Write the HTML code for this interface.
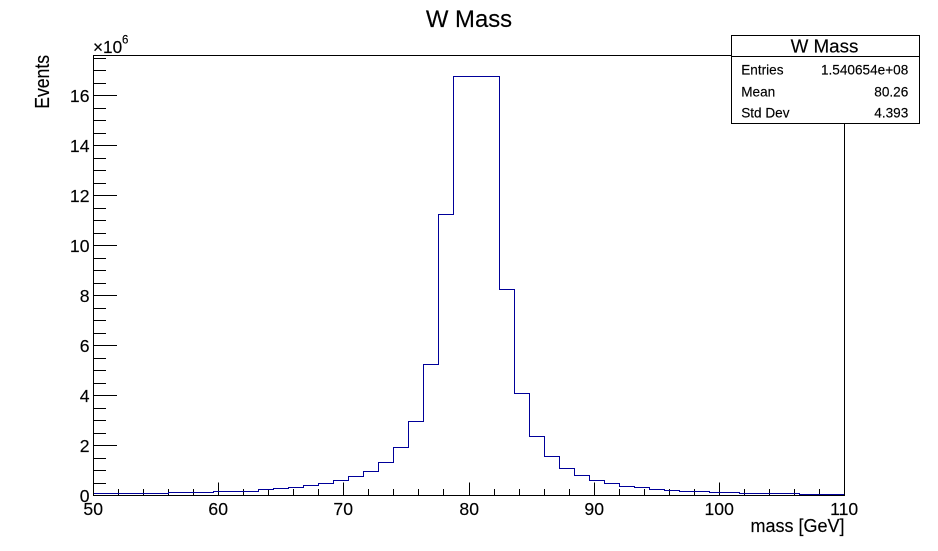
<!DOCTYPE html>
<html lang="en">
<head>
<meta charset="utf-8">
<title>W Mass</title>
<style>
html,body{margin:0;padding:0;background:#fff;}
svg{display:block;}
text{font-family:"Liberation Sans",sans-serif;fill:#000;stroke:#000;stroke-width:0.15px;}
</style>
</head>
<body>
<svg id="chart" xmlns="http://www.w3.org/2000/svg" width="938" height="551" viewBox="0 0 938 551">
  <rect x="0" y="0" width="938" height="551" fill="#fff"/>
  <text x="469" y="27" font-size="23.9" text-anchor="middle">W Mass</text>
  <g id="ticks"></g>
  <path id="hist" fill="none" stroke="#000099" stroke-width="1"/>
  <rect x="93.5" y="55.5" width="751" height="440" fill="none" stroke="#000" stroke-width="1"/>
  <g id="labels"></g>
  <text x="93" y="53" font-size="17.2">×10</text>
  <text x="122" y="43.5" font-size="11.5">6</text>
  <text transform="translate(49,55) rotate(-90) scale(1,1.14)" font-size="17.6" text-anchor="end">Events</text>
  <text x="844.5" y="532" font-size="18" text-anchor="end">mass [GeV]</text>
  <g>
    <rect x="731.5" y="35.5" width="188" height="88" fill="#fff" stroke="#000" stroke-width="1"/>
    <line x1="731.5" y1="56.5" x2="919.5" y2="56.5" stroke="#000" stroke-width="1"/>
    <text x="824.5" y="52.3" font-size="18.8" text-anchor="middle">W Mass</text>
    <text x="741.2" y="74.3" font-size="13.6">Entries</text>
    <text x="908.3" y="74.3" font-size="13.6" text-anchor="end">1.540654e+08</text>
    <text x="741.2" y="96.5" font-size="13.6">Mean</text>
    <text x="908.3" y="96.5" font-size="13.6" text-anchor="end">80.26</text>
    <text x="741.2" y="117.7" font-size="13.6">Std Dev</text>
    <text x="908.3" y="117.7" font-size="13.6" text-anchor="end">4.393</text>
  </g>
</svg>
<script>
// Bin contents in units of 10^6 events; 50 bins spanning 50..110 GeV
const binValues = [
  0.07,0.07,0.07,0.07,0.07,
  0.107,0.107,0.107,
  0.147,0.147,
  0.173,0.227,0.27,0.307,0.387,0.467,0.587,0.747,0.947,1.307,
  1.907,2.947,5.227,11.25,16.75,16.75,16.75,8.25,4.067,2.347,
  1.547,1.067,0.787,0.587,0.48,0.36,0.32,0.24,0.2,0.16,
  0.16,0.12,0.12,0.08,0.08,0.08,0.08,0.027,0.027,0.027
];
const xRange = [50, 110];
const yMax = 17.6;
const xMajorTicks = [50, 60, 70, 80, 90, 100, 110];
const xMinorTicks = [52, 54, 56, 58, 62, 64, 66, 68, 72, 74, 76, 78, 82, 84, 86, 88, 92, 94, 96, 98, 102, 104, 106, 108];
const yMajorTicks = [0, 2, 4, 6, 8, 10, 12, 14, 16];
const yMinorTicks = [0.5, 1, 1.5, 2.5, 3, 3.5, 4.5, 5, 5.5, 6.5, 7, 7.5, 8.5, 9, 9.5, 10.5, 11, 11.5, 12.5, 13, 13.5, 14.5, 15, 15.5, 16.5, 17, 17.5];

const NS = 'http://www.w3.org/2000/svg';
const left = 93.5, right = 844.5, bottom = 495.5, top_ = 55.5;
function snap(v) { return Math.floor(v) + 0.5; }
function xScale(v) { return left + (v - xRange[0]) * (right - left) / (xRange[1] - xRange[0]); }
function yScale(v) { return bottom - v * (bottom - top_) / yMax; }

const binWidth = (xRange[1] - xRange[0]) / binValues.length;
let d = '';
binValues.forEach(function (v, i) {
  const x0 = i === 0 ? left : snap(xScale(xRange[0] + i * binWidth));
  const x1 = i === binValues.length - 1 ? right : snap(xScale(xRange[0] + (i + 1) * binWidth));
  const y = snap(yScale(v));
  d += (i === 0 ? 'M' + x0 + ' ' + bottom + 'L' + x0 + ' ' + y : 'L' + x0 + ' ' + y) + 'L' + x1 + ' ' + y;
});
d += 'L' + right + ' ' + bottom;
document.getElementById('hist').setAttribute('d', d);

const tickGroup = document.getElementById('ticks');
const labelGroup = document.getElementById('labels');
function addLine(x1, y1, x2, y2) {
  const l = document.createElementNS(NS, 'line');
  l.setAttribute('x1', x1);
  l.setAttribute('y1', y1);
  l.setAttribute('x2', x2);
  l.setAttribute('y2', y2);
  l.setAttribute('stroke', '#000');
  l.setAttribute('stroke-width', '1');
  tickGroup.appendChild(l);
  return l;
}
function addLabel(x, y, txt, anchor) {
  const t = document.createElementNS(NS, 'text');
  t.setAttribute('x', x);
  t.setAttribute('y', y);
  t.setAttribute('font-size', '17.6');
  t.setAttribute('text-anchor', anchor);
  t.textContent = txt;
  labelGroup.appendChild(t);
  return t;
}
xMajorTicks.forEach(function (v) {
  const x = snap(xScale(v));
  const l = addLine(x, bottom, x, bottom - 13);
  
  
  const t = addLabel(x - 0.3, 515, String(v), 'middle');
  
  
});
xMinorTicks.forEach(function (v) {
  const x = snap(xScale(v));
  const l = addLine(x, bottom, x, bottom - 6.5);
  
  
});
yMajorTicks.forEach(function (v) {
  const y = snap(yScale(v));
  const l = addLine(left, y, left + 23.5, y);
  
  
  const t = addLabel(89.5, y + 6.5, String(v), 'end');
  
  
});
yMinorTicks.forEach(function (v) {
  const y = snap(yScale(v));
  const l = addLine(left, y, left + 12.5, y);
  
  
});
</script>
</body>
</html>
